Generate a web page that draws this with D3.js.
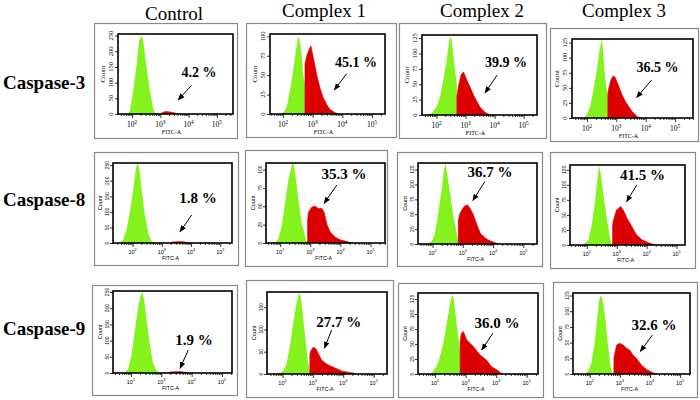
<!DOCTYPE html>
<html><head><meta charset="utf-8">
<script src="https://cdn.jsdelivr.net/npm/d3@7"></script>
<style>body{margin:0;background:#fff}svg{display:block}</style>
</head><body>
<svg id="chart" width="700" height="400"></svg>
<script>
// ---------------- data ----------------
const colTitles = ["Control", "Complex 1", "Complex 2", "Complex 3"];
const rowLabels = ["Caspase-3", "Caspase-8", "Caspase-9"];
const percentLabels = [
  ["4.2 %", "45.1 %", "39.9 %", "36.5 %"],
  ["1.8 %", "35.3 %", "36.7 %", "41.5 %"],
  ["1.9 %", "27.7 %", "36.0 %", "32.6 %"]
];
const xTickDecades = [2, 3, 4, 5];
const xAxisTitle = "FITC-A";
const yAxisTitle = "Count";
const yMaxes = [[255, 103, 130, 131], [257, 109, 136, 133], [253, 184, 135, 129]];
const yTickSets = [
  [[0,50,100,150,200,250],[0,25,50,75,100],[0,25,50,75,100,125],[0,25,50,75,100,125]],
  [[0,50,100,150,200,250],[0,25,50,75,100],[0,25,50,75,100,125],[0,25,50,75,100,125]],
  [[0,50,100,150,200,250],[0,50,100,150],[0,25,50,75,100,125],[0,25,50,75,100,125]]
];
// log10 display range of each panel's FITC-A axis
const xDomains = [
  [[1.50,5.57],[1.56,5.44],[1.50,5.46],[1.49,5.61]],
  [[1.33,5.40],[1.53,5.48],[1.52,5.45],[1.44,5.28]],
  [[1.41,5.33],[1.49,5.44],[1.44,5.37],[1.44,5.33]]
];
// histograms: [log10 FITC-A, count]
const casp3Green = [
  [[1.80,0],[1.86,2],[1.92,10],[2.04,74],[2.16,160],[2.25,234],[2.33,250],[2.39,234],[2.51,149],[2.63,74],[2.74,21],[2.80,5],[2.86,0]],
  [[1.97,0],[2.01,2],[2.12,8],[2.23,29],[2.35,58],[2.44,83],[2.51,100],[2.57,94],[2.63,75],[2.68,50],[2.74,40],[2.74,0]],
  [[1.62,0],[1.83,3],[2.00,13],[2.12,29],[2.23,56],[2.35,89],[2.44,122],[2.50,128],[2.56,106],[2.62,78],[2.70,51],[2.70,0]],
  [[1.89,0],[2.00,6],[2.11,19],[2.22,47],[2.34,80],[2.43,114],[2.51,131],[2.56,103],[2.62,64],[2.71,36],[2.71,0]]
];
const casp3Red = [
  [[3.00,0],[3.06,4],[3.15,7],[3.25,8],[3.35,6],[3.45,5],[3.52,3],[3.58,0]],
  [[2.74,0],[2.74,65],[2.80,75],[2.88,83],[2.94,88],[3.02,73],[3.14,50],[3.25,33],[3.36,21],[3.48,12],[3.58,6],[3.75,2],[3.86,0]],
  [[2.70,0],[2.70,30],[2.75,45],[2.84,65],[2.93,70],[3.05,56],[3.16,45],[3.28,32],[3.40,21],[3.51,12],[3.68,4],[3.86,0]],
  [[2.71,0],[2.71,40],[2.73,47],[2.82,64],[2.90,70],[2.96,67],[3.08,53],[3.19,39],[3.30,28],[3.42,19],[3.53,11],[3.70,3],[3.81,0]]
];
const casp8Green = [
  [[1.56,0],[1.67,9],[1.79,41],[1.91,100],[2.02,170],[2.11,239],[2.17,255],[2.23,239],[2.31,170],[2.42,89],[2.54,30],[2.65,6],[2.77,0]],
  [[1.83,0],[1.94,6],[2.05,22],[2.16,54],[2.27,85],[2.39,107],[2.44,108],[2.50,95],[2.61,58],[2.72,26],[2.83,10],[2.89,0]],
  [[1.81,0],[1.97,4],[2.08,18],[2.19,52],[2.30,91],[2.38,125],[2.43,135],[2.49,114],[2.58,85],[2.69,46],[2.80,18],[2.85,4],[2.85,0]],
  [[1.88,0],[2.05,8],[2.16,31],[2.27,70],[2.35,108],[2.41,131],[2.46,120],[2.55,86],[2.66,47],[2.77,14],[2.83,0]]
];
const casp8Red = [
  [[3.28,0],[3.35,3],[3.50,4],[3.65,5],[3.80,3],[3.97,0]],
  [[2.91,0],[2.91,31],[2.94,42],[3.05,49],[3.16,50],[3.27,47],[3.39,47],[3.46,42],[3.55,26],[3.66,15],[3.83,8],[3.99,4.5],[4.22,2],[4.38,0]],
  [[2.85,0],[2.85,40],[2.91,52],[3.04,63],[3.15,66],[3.24,60],[3.35,49],[3.47,32],[3.58,18],[3.74,10],[3.91,5],[4.08,2],[4.19,0]],
  [[2.86,0],[2.86,30],[2.88,39],[2.99,58],[3.13,64],[3.22,58],[3.35,44],[3.50,31],[3.66,17],[3.83,9],[4.05,4],[4.27,0]]
];
const casp9Green = [
  [[1.80,0],[1.91,13],[2.02,55],[2.13,132],[2.24,204],[2.32,240],[2.38,250],[2.44,225],[2.52,163],[2.63,85],[2.73,29],[2.85,6],[2.96,0]],
  [[1.85,0],[2.02,7],[2.13,22],[2.24,60],[2.35,113],[2.46,159],[2.54,181],[2.60,174],[2.68,128],[2.77,68],[2.85,22],[2.90,8],[2.90,0]],
  [[1.84,0],[1.94,4],[2.10,18],[2.27,51],[2.40,90],[2.51,123],[2.58,133],[2.64,112],[2.73,73],[2.82,40],[2.82,0]],
  [[1.83,0],[1.94,4],[2.05,17],[2.16,49],[2.24,86],[2.31,118],[2.37,126],[2.44,115],[2.53,81],[2.62,38],[2.69,12],[2.75,0]]
];
const casp9Red = [
  [[3.23,0],[3.30,3],[3.45,4],[3.60,5],[3.75,3],[3.89,0]],
  [[2.90,0],[2.90,45],[2.94,53],[3.01,60],[3.10,57],[3.18,46],[3.29,31],[3.46,22],[3.62,17],[3.79,12],[3.95,7],[4.17,4],[4.34,2],[4.39,0]],
  [[2.82,0],[2.82,55],[2.86,68],[2.92,71],[2.97,66],[3.03,57],[3.25,46],[3.47,32],[3.69,23],[3.85,12],[4.02,7],[4.18,1],[4.22,0]],
  [[2.80,0],[2.80,25],[2.83,33],[2.89,46],[2.98,49],[3.11,46],[3.22,41],[3.33,38],[3.44,30],[3.55,25],[3.72,14],[3.89,7],[4.05,3],[4.22,0]]
];
// annotation anchors in data units: label [x,y], arrow from [x,y] to [x,y]
const labelAnchors = [
  [[4.37,119],[4.46,61],[4.39,78],[4.40,77]],
  [[4.24,128],[4.12,87],[3.90,113],[3.86,108]],
  [[4.08,86],[3.85,106],[4.03,76],[4.13,70]]
];
const arrowFrom = [
  [[4.11,92],[4.15,52],[4.09,65],[4.20,63]],
  [[4.02,90],[3.88,79],[3.73,105],[3.67,100]],
  [[3.89,71],[3.62,99],[3.89,68],[4.08,62]]
];
const arrowTo = [
  [[3.63,45],[3.73,31],[3.67,36],[3.69,34]],
  [[3.62,36],[3.46,54],[3.33,73],[3.33,72]],
  [[3.62,14.5],[3.38,58],[3.53,40],[3.68,36]]
];

// ---------------- layout ----------------
const outerBoxes = [
  [[94,23,237,138],[246,23,396,137],[399,23,546,138],[550,28,698,141]],
  [[94,152,238,265],[245,150,387,266],[397,152,542,266],[550,152,695,268]],
  [[92,285,237,395],[246,280,393,397],[398,283,543,397],[553,282,697,397]]
];
const innerBoxes = [
  [[118,34,233,114],[270,34,385,114],[422,35,537,115],[572,39,693,118]],
  [[113,163,232,243],[266,163,385,243],[418,163,537,244],[570,165,685,245]],
  [[113,291,232,373],[267,292,387,374],[418,293,538,374],[573,293,690,374]]
];
const titleX = [174, 324, 482, 624];
const titleY = [20, 17, 17, 17];
const rowLabelY = [89, 206, 335];

const GREEN = "#84f21c", RED = "#dc0000";
const greens = [casp3Green, casp8Green, casp9Green];
const reds = [casp3Red, casp8Red, casp9Red];

const svg = d3.select("#chart");
const defs = svg.append("defs");
defs.append("marker").attr("id","ah").attr("viewBox","0 0 10 10")
  .attr("refX",9).attr("refY",5).attr("markerWidth",7).attr("markerHeight",7)
  .attr("markerUnits","userSpaceOnUse").attr("orient","auto")
  .append("path").attr("d","M0,1 L10,5 L0,9 Z").attr("fill","#000");

// column titles
svg.selectAll("text.coltitle").data(colTitles).join("text")
  .attr("class","coltitle")
  .attr("x",(d,i)=>titleX[i]).attr("y",(d,i)=>titleY[i])
  .attr("text-anchor","middle")
  .style("font-family","'Liberation Serif', 'Times New Roman', serif")
  .style("font-size","19px").attr("fill","#000").text(d=>d);

// row labels
svg.selectAll("text.rowlabel").data(rowLabels).join("text")
  .attr("class","rowlabel")
  .attr("x",3).attr("y",(d,i)=>rowLabelY[i])
  .style("font-family","'Liberation Serif', 'Times New Roman', serif")
  .style("font-weight","bold").style("font-size","19px").attr("fill","#000").text(d=>d);

for (let r = 0; r < 3; r++) {
  for (let c = 0; c < 4; c++) {
    const ob = outerBoxes[r][c], ib = innerBoxes[r][c];
    const serifRow = r === 0;
    const tickFont = serifRow ? "'Liberation Serif', serif" : "'Liberation Sans', Arial, sans-serif";
    const g = svg.append("g");
    g.append("rect").attr("x",ob[0]+0.5).attr("y",ob[1]+0.5)
      .attr("width",ob[2]-ob[0]).attr("height",ob[3]-ob[1])
      .attr("fill","#fff").attr("stroke","#8a8a8a").attr("stroke-width",1.2);

    const x = d3.scaleLinear().domain(xDomains[r][c]).range([ib[0], ib[2]]);
    const y = d3.scaleLinear().domain([0, yMaxes[r][c]]).range([ib[3], ib[1]]);

    const clipId = `clip${r}${c}`;
    defs.append("clipPath").attr("id",clipId).append("rect")
      .attr("x",ib[0]).attr("y",ib[1]).attr("width",ib[2]-ib[0]).attr("height",ib[3]-ib[1]);

    const area = d3.area().x(d=>x(d[0])).y0(y(0)).y1(d=>y(d[1])).curve(d3.curveLinear);
    const hg = g.append("g").attr("clip-path",`url(#${clipId})`);
    hg.append("path").datum(greens[r][c]).attr("d",area).attr("fill",GREEN);
    hg.append("path").datum(reds[r][c]).attr("d",area).attr("fill",RED)
      .attr("stroke",RED).attr("stroke-width",0.6);

    // x axis: major + minor log ticks
    const [x0, x1] = xDomains[r][c];
    const minors = [];
    for (let d = 1; d <= 5; d++) for (let k = 2; k <= 9; k++) {
      const v = d + Math.log10(k);
      if (v > x0 && v < x1) minors.push(v);
    }
    const xa = g.append("g").attr("transform",`translate(0,${ib[3]})`);
    xa.call(d3.axisBottom(x).tickValues(minors).tickSize(2).tickFormat(""))
      .call(s=>s.select(".domain").remove());
    xa.append("g").call(d3.axisBottom(x).tickValues(xTickDecades).tickSize(4).tickFormat(""))
      .call(s=>s.select(".domain").remove());
    xa.selectAll("line").attr("stroke","#000").attr("stroke-width",0.8);

    const labFs = serifRow ? 7.5 : 5.5;
    const labY = serifRow ? ib[3] + 13 : ib[3] + 10.5;
    xTickDecades.forEach(v => {
      const t = g.append("text").attr("x",x(v)).attr("y",labY).attr("text-anchor","middle")
        .style("font-family",tickFont).style("font-size",labFs+"px").attr("fill","#000");
      t.append("tspan").text("10");
      t.append("tspan").attr("dy",-labFs*0.4).style("font-size",(labFs*0.7)+"px").text(String(v));
    });
    g.append("text").attr("x",(ib[0]+ib[2])/2 - (serifRow ? 4 : 2))
      .attr("y", serifRow ? ib[3] + 20 : ib[3] + 17)
      .attr("text-anchor","middle").style("font-family",tickFont)
      .style("font-size",(serifRow ? 6 : 5.3)+"px").attr("fill","#000").text(xAxisTitle);

    // y axis
    const ya = g.append("g").attr("transform",`translate(${ib[0]},0)`)
      .call(d3.axisLeft(y).tickValues(yTickSets[r][c]).tickSize(3).tickFormat(""));
    ya.select(".domain").remove();
    ya.selectAll("line").attr("stroke","#000").attr("stroke-width",0.8);
    yTickSets[r][c].forEach(v => {
      g.append("text").attr("transform",`translate(${ib[0] - (serifRow ? 5 : 4)},${y(v)}) rotate(-90)`)
        .attr("text-anchor","middle").style("font-family",tickFont)
        .style("font-size",(serifRow ? 6.5 : 5)+"px").attr("fill","#000").text(v);
    });
    g.append("text").attr("transform",`translate(${ib[0] - (serifRow ? 13 : 11)},${(ib[1]+ib[3])/2}) rotate(-90)`)
      .attr("text-anchor","middle").style("font-family",tickFont)
      .style("font-size",(serifRow ? 7 : 5.5)+"px").attr("fill","#000").text(yAxisTitle);

    // plot frame
    g.append("rect").attr("x",ib[0]).attr("y",ib[1])
      .attr("width",ib[2]-ib[0]).attr("height",ib[3]-ib[1])
      .attr("fill","none").attr("stroke","#000").attr("stroke-width",1.6);

    // percentage label + arrow
    const la = labelAnchors[r][c];
    g.append("text").attr("x",x(la[0])).attr("y",y(la[1])).attr("text-anchor","middle")
      .style("font-family","'Liberation Serif', 'Times New Roman', serif")
      .style("font-weight","bold").style("font-size",(serifRow ? 14 : 15)+"px")
      .attr("fill","#000").text(percentLabels[r][c]);
    const af = arrowFrom[r][c], at = arrowTo[r][c];
    g.append("line").attr("x1",x(af[0])).attr("y1",y(af[1]))
      .attr("x2",x(at[0])).attr("y2",y(at[1]))
      .attr("stroke","#000").attr("stroke-width",1).attr("marker-end","url(#ah)");
  }
}
</script>
</body></html>
